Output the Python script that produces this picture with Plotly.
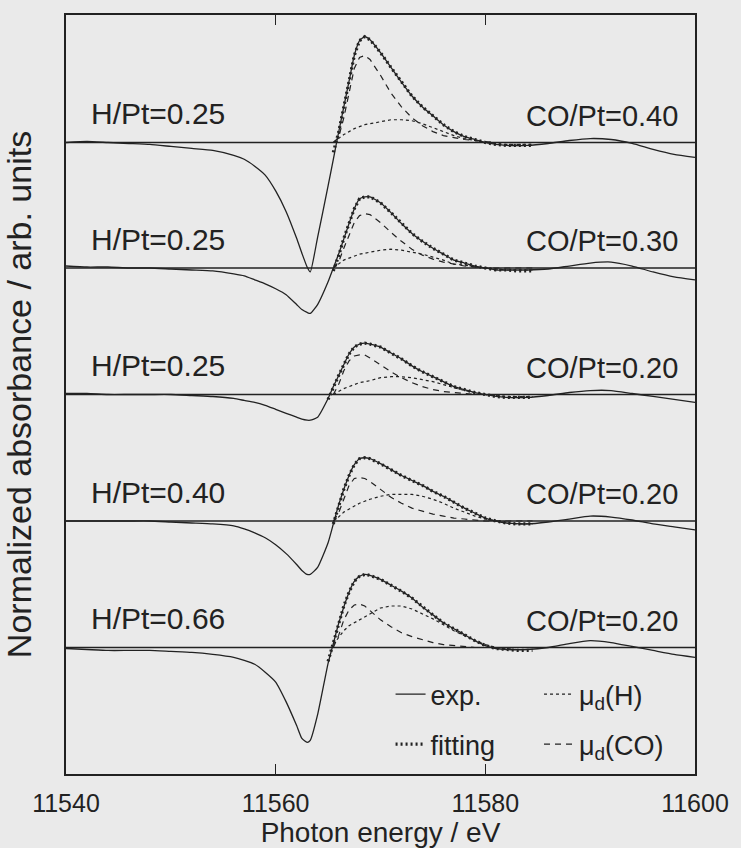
import plotly.graph_objects as go

# ---------------- data (arb. units) ----------------
energy_exp = [11540, 11542, 11544, 11546, 11548, 11550, 11552, 11554, 11556, 11557, 11558, 11559,
              11560, 11561, 11562, 11562.5, 11563, 11563.3, 11564, 11565, 11565.5, 11566, 11567,
              11567.5, 11568, 11568.5, 11569, 11570, 11571, 11572, 11573, 11574, 11575, 11576,
              11577, 11578, 11579, 11580, 11581, 11582, 11584, 11586, 11588, 11590, 11592, 11594,
              11596, 11598, 11600]

exp_1 = [0, 1, 0, -1, -2, -4, -6, -8, -13, -17, -24, -33, -49, -70, -97, -112, -126, -131, -96, -44,
         -17, 10, 62, 88, 103, 107, 104, 91, 76, 61, 47, 36, 27, 18, 11, 6, 3, 0, -2, -3, -3, -1, 2,
         4, 3, -1, -7, -12, -15]
exp_2 = [2, 1, 1, 0, 0, -1, -2, -3, -6, -8, -12, -16, -21, -27, -37, -42, -45, -46, -37, -14, 0,
         14, 45, 60, 70, 72, 72, 66, 56, 45, 35, 27, 20, 14, 8, 5, 2, 0, -2, -2, -2, -1, 2, 5, 6, 2,
         -4, -9, -12]
exp_3 = [1, 1, 0, 0, 0, 0, -1, -2, -4, -6, -8, -11, -15, -19, -23, -25, -26, -26, -23, -4, 8, 19,
         41, 48, 51, 52, 51, 48, 42, 36, 29, 23, 18, 13, 8, 5, 2, 0, -2, -3, -3, -1, 2, 4, 4, 1,
         -2, -5, -8]
exp_4 = [0, 0, 0, 0, 0, -1, -2, -3, -5, -8, -12, -17, -24, -33, -44, -50, -54, -54, -47, -22, -3,
         16, 46, 57, 63, 64, 63, 58, 52, 46, 41, 36, 30, 25, 19, 13, 8, 3, 0, -2, -3, -1, 2, 5, 4,
         1, -3, -6, -9]
exp_5 = [-1, -2, -3, -3, -3, -4, -5, -7, -10, -13, -17, -25, -35, -55, -79, -92, -96, -94, -68,
         -16, 4, 24, 56, 67, 72, 74, 73, 69, 63, 57, 50, 41, 33, 25, 19, 13, 7, 2, -1, -2, -2, 0,
         4, 7, 5, 1, -3, -7, -10]

energy_fit = [11565, 11565.5, 11566, 11566.5, 11567, 11567.5, 11568, 11568.5, 11569, 11570, 11571,
              11572, 11573, 11574, 11575, 11576, 11577, 11578, 11579, 11580, 11581, 11582, 11583,
              11584, 11584.5]

fit_1 = [None, -10, 10, 36, 62, 88, 103, 107, 104, 91, 76, 61, 47, 36, 27, 18, 11, 6, 3, 0, -2, -3, -3, -3, -3]
fit_2 = [None, -3, 12, 30, 45, 60, 70, 72, 72, 66, 56, 45, 35, 27, 20, 14, 8, 5, 2, 0, -2, -2, -3, -3, -3]
fit_3 = [-5, 8, 19, 30, 41, 48, 51, 52, 51, 48, 42, 36, 29, 23, 18, 13, 8, 5, 2, 0, -2, -3, -3, -3, -3]
fit_4 = [None, -3, 16, 32, 46, 57, 63, 64, 63, 58, 52, 46, 41, 36, 30, 25, 19, 13, 8, 3, 0, -2, -3, -3, -3]
fit_5 = [-14, 4, 24, 42, 56, 67, 72, 74, 73, 69, 63, 57, 50, 41, 33, 25, 19, 13, 7, 2, -1, -2, -3, -3, -3]

energy_comp = [11565.5, 11566, 11566.5, 11567, 11567.5, 11568, 11568.5, 11569, 11570, 11571, 11572,
               11573, 11574, 11575, 11576, 11577, 11578, 11579, 11580, 11581, 11582, 11583, 11584,
               11584.5]

co_1 = [0, 5, 25, 50, 75, 86, 88, 84, 68, 50, 36, 25, 17, 11, 7, 5, 3, 2, 1, 0, 0, 0, 0, 0]
co_2 = [0, 6, 20, 34, 46, 53, 55, 54, 46, 36, 27, 19, 13, 9, 6, 4, 2, 1, 0, 0, 0, 0, 0, 0]
co_3 = [0, 10, 24, 34, 39, 40, 40, 37, 30, 23, 17, 12, 8, 5, 3, 2, 1, 0, 0, 0, 0, 0, 0, 0]
co_4 = [0, 8, 22, 36, 43, 44, 43, 40, 32, 24, 18, 13, 10, 7, 5, 3, 2, 1, 0, 0, 0, 0, 0, 0]
co_5 = [0, 12, 28, 38, 43, 44, 42, 37, 28, 21, 15, 11, 8, 5, 3, 2, 1, 0, 0, 0, 0, 0, 0, 0]

h_1 = [0, 4, 8, 11, 14, 16, 18, 19, 21, 23, 23, 22, 19, 15, 11, 7, 4, 2, 0, -1, -2, -2, -2, -2]
h_2 = [0, 4, 8, 10, 12, 14, 15, 16, 18, 19, 18, 16, 14, 11, 8, 4, 3, 1, 0, -1, -2, -2, -2, -2]
h_3 = [0, 3, 6, 8, 10, 12, 13, 14, 17, 18, 18, 17, 15, 13, 10, 7, 4, 2, 0, -1, -2, -2, -2, -2]
h_4 = [0, 4, 9, 12, 15, 18, 20, 22, 25, 27, 27, 27, 25, 22, 18, 13, 9, 5, 2, 0, -2, -3, -3, -3]
h_5 = [3, 10, 17, 22, 25, 28, 31, 34, 40, 42, 42, 39, 34, 29, 23, 17, 12, 7, 3, 0, -1, -2, -2, -2]

h_labels = ["H/Pt=0.25", "H/Pt=0.25", "H/Pt=0.25", "H/Pt=0.40", "H/Pt=0.66"]
co_labels = ["CO/Pt=0.40", "CO/Pt=0.30", "CO/Pt=0.20", "CO/Pt=0.20", "CO/Pt=0.20"]

exp_all = [exp_1, exp_2, exp_3, exp_4, exp_5]
fit_all = [fit_1, fit_2, fit_3, fit_4, fit_5]
co_all = [co_1, co_2, co_3, co_4, co_5]
h_all = [h_1, h_2, h_3, h_4, h_5]

# vertical stacking offsets of the five spectra (top to bottom)
offsets = [511, 384, 256, 128, 0]

x_ticks = [11540, 11560, 11580, 11600]

# ---------------- figure ----------------
INK = "#222222"
BG = "#eaeaea"
FONT = "Liberation Sans, Arial, sans-serif"

fig = go.Figure()


def shift(vals, off):
    return [None if v is None else v + off for v in vals]


for i in range(5):
    off = offsets[i]
    first = (i == 0)
    fig.add_trace(go.Scatter(
        x=energy_comp, y=shift(h_all[i], off), mode="lines",
        line=dict(color=INK, width=1.2, dash="dot"),
        name="μ<sub>d</sub>(H)", legend="legend2", legendgroup="H", showlegend=first))
    fig.add_trace(go.Scatter(
        x=energy_comp, y=shift(co_all[i], off), mode="lines",
        line=dict(color=INK, width=1.2, dash="6px,5px"),
        name="μ<sub>d</sub>(CO)", legend="legend2", legendgroup="CO", showlegend=first))
    fig.add_trace(go.Scatter(
        x=energy_exp, y=shift(exp_all[i], off), mode="lines",
        line=dict(color=INK, width=1.3, shape="spline", smoothing=0.5),
        name="exp.", legend="legend", legendgroup="exp", showlegend=first))
    fig.add_trace(go.Scatter(
        x=energy_fit, y=shift(fit_all[i], off), mode="lines",
        line=dict(color=INK, width=3.2, dash="2px,3px"),
        name="fitting", legend="legend", legendgroup="fit", showlegend=first))

    fig.add_hline(y=off, line=dict(color=INK, width=1.4), layer="below")

    fig.add_annotation(x=11542.2, y=off + 29, xref="x", yref="y", text=h_labels[i],
                       showarrow=False, xanchor="left", yanchor="middle",
                       font=dict(family=FONT, size=30, color=INK))
    fig.add_annotation(x=11598.6, y=off + 27, xref="x", yref="y", text=co_labels[i],
                       showarrow=False, xanchor="right", yanchor="middle",
                       font=dict(family=FONT, size=29, color=INK))

fig.update_layout(
    width=741, height=848,
    margin=dict(l=66, r=35, t=15, b=64),
    paper_bgcolor=BG, plot_bgcolor=BG,
    font=dict(family=FONT, color=INK),
    legend=dict(x=0.516, y=0.137, xanchor="left", yanchor="top", bgcolor="rgba(0,0,0,0)",
                font=dict(size=27, family=FONT, color=INK), tracegroupgap=12,
                itemwidth=30, traceorder="grouped"),
    legend2=dict(x=0.752, y=0.137, xanchor="left", yanchor="top", bgcolor="rgba(0,0,0,0)",
                 font=dict(size=27, family=FONT, color=INK), tracegroupgap=12,
                 itemwidth=30, traceorder="grouped"),
    xaxis=dict(range=[11540, 11600], tickvals=x_ticks, ticktext=[str(t) for t in x_ticks],
               ticks="inside", ticklen=10, tickwidth=1.2, tickcolor=INK,
               showline=True, linecolor=INK, linewidth=1.5, mirror="allticks",
               showgrid=False, zeroline=False, ticklabelstandoff=6,
               ticklabeloverflow="allow",
               tickfont=dict(size=25, family=FONT, color=INK),
               title=dict(text="Photon energy / eV", font=dict(size=28, family=FONT, color=INK),
                          standoff=0)),
    yaxis=dict(range=[-128, 640], showticklabels=False, ticks="",
               showline=True, linecolor=INK, linewidth=1.5, mirror=True,
               showgrid=False, zeroline=False,
               title=dict(text="Normalized absorbance / arb. units",
                          font=dict(size=34, family=FONT, color=INK), standoff=25)),
)

fig.write_html("out.html")
